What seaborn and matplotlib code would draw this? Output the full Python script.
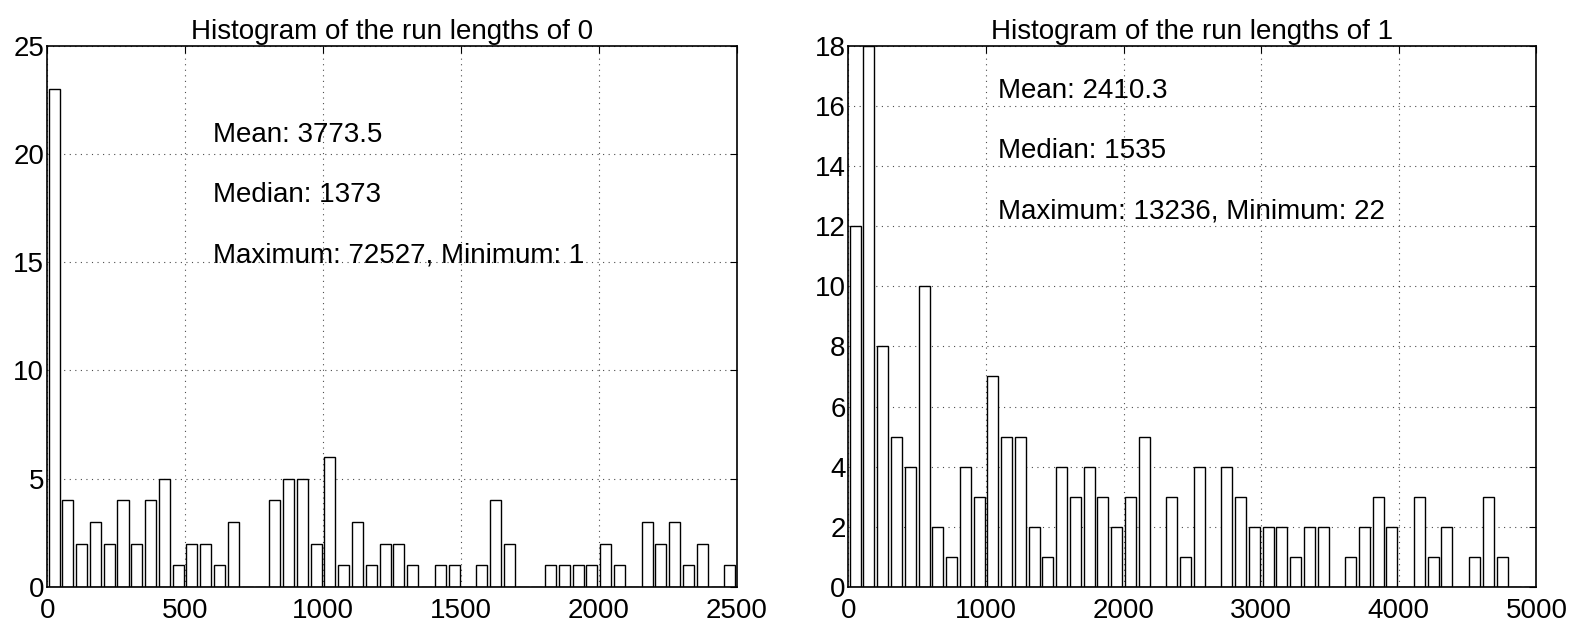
import numpy as np
import pandas as pd
import matplotlib
matplotlib.use("Agg")
import matplotlib.pyplot as plt
import seaborn as sns

# run lengths of 0: 50 bins of width 50 (0..2500)
zero_bin_width = 50
zero_counts = [23, 4, 2, 3, 2, 4, 2, 4, 5, 1, 2, 2, 1, 3, 0, 0, 4, 5, 5, 2,
               6, 1, 3, 1, 2, 2, 1, 0, 1, 1, 0, 1, 4, 2, 0, 0, 1, 1, 1, 1,
               2, 1, 0, 3, 2, 3, 1, 2, 0, 1]
zero_stats = ["Mean: 3773.5", "Median: 1373", "Maximum: 72527, Minimum: 1"]

# run lengths of 1: 50 bins of width 100 (0..5000)
one_bin_width = 100
one_counts = [12, 18, 8, 5, 4, 10, 2, 1, 4, 3, 7, 5, 5, 2, 1, 4, 3, 4, 3, 2,
              3, 5, 0, 3, 1, 4, 0, 4, 3, 2, 2, 2, 1, 2, 2, 0, 1, 2, 3, 2,
              0, 3, 1, 2, 0, 1, 3, 1, 0, 0]
one_stats = ["Mean: 2410.3", "Median: 1535", "Maximum: 13236, Minimum: 22"]

sns.set_style("white")
plt.rcParams['font.family'] = ['Liberation Sans', 'DejaVu Sans']
plt.rcParams['font.size'] = 20
plt.rcParams['text.color'] = 'black'
plt.rcParams['xtick.color'] = 'black'
plt.rcParams['ytick.color'] = 'black'
plt.rcParams['axes.titlecolor'] = 'black'


def draw_hist(ax, counts, width, xmax, ymax, xticks, yticks, title, stats, text_x, text_y):
    centers = np.arange(len(counts)) * width + width / 2
    df = pd.DataFrame({"center": centers, "count": counts})
    sns.histplot(data=df, x="center", weights="count", binwidth=width,
                 binrange=(0, len(counts) * width), shrink=0.8,
                 color="white", edgecolor="black", linewidth=1.0, alpha=1, ax=ax)
    ax.set_xlim(0, xmax)
    ax.set_ylim(0, ymax)
    ax.set_xticks(xticks)
    ax.set_yticks(yticks)
    ax.set_xlabel("")
    ax.set_ylabel("")
    ax.set_title(title, fontsize=20, pad=5, color="black")
    ax.grid(True, linestyle=(0, (1, 4)), color="black", linewidth=0.8, alpha=0.7)
    ax.set_axisbelow(True)
    ax.tick_params(direction="in", top=True, right=True, length=5, labelsize=20)
    ax.tick_params(axis="x", pad=8)
    ax.tick_params(axis="y", pad=2)
    for s in ax.spines.values():
        s.set_visible(True)
        s.set_color("black")
        s.set_linewidth(1.2)
    for txt, y in zip(stats, text_y):
        ax.text(text_x, y, txt, fontsize=20, ha="left", va="center", color="black")


fig = plt.figure(figsize=(15.71, 6.21), dpi=100)
ax1 = fig.add_axes([0.030, 0.055, 0.439, 0.871])
ax2 = fig.add_axes([0.540, 0.055, 0.438, 0.871])

draw_hist(ax1, zero_counts, zero_bin_width, 2500, 25,
          [0, 500, 1000, 1500, 2000, 2500], [0, 5, 10, 15, 20, 25],
          "Histogram of the run lengths of 0", zero_stats, 600, [20.9, 18.1, 15.3])
draw_hist(ax2, one_counts, one_bin_width, 5000, 18,
          [0, 1000, 2000, 3000, 4000, 5000], list(range(0, 19, 2)),
          "Histogram of the run lengths of 1", one_stats, 1090, [16.5, 14.5, 12.5])

fig.savefig("out.png", dpi=100)
